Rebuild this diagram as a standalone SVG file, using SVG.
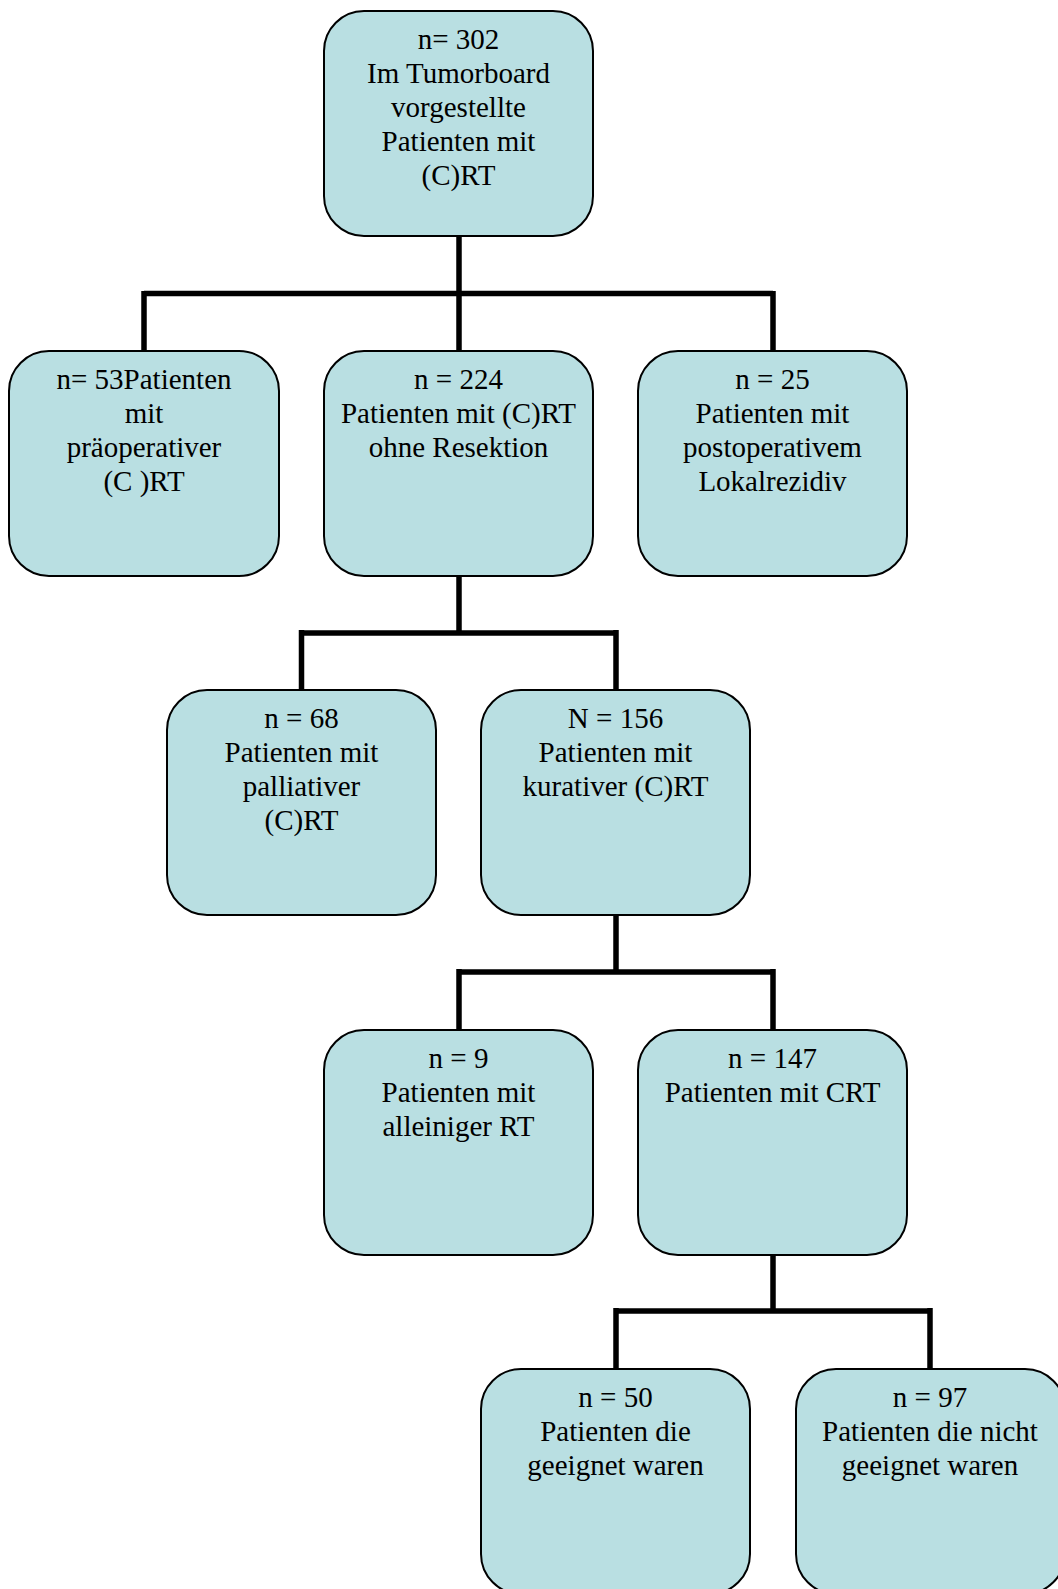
<svg xmlns="http://www.w3.org/2000/svg" width="1058" height="1589" viewBox="0 0 1058 1589">
<style>
.box{fill:#b9dfe2;stroke:#000;stroke-width:2}
.lbl{font-family:"Liberation Serif","Times New Roman",serif;font-size:29px;fill:#000;text-anchor:middle}
.conn{fill:none;stroke:#000;stroke-width:5.5;stroke-linejoin:miter}
</style>
<rect width="1058" height="1589" fill="#fff"/>
<g id="connectors">
<path class="conn" d="M459,236 V350 M144,293.5 H773 M144,291 V351 M773,291 V351"/>
<path class="conn" d="M459,576 V633 M301.5,633 H616 M301.5,630 V690 M616,630 V690"/>
<path class="conn" d="M616,915 V972 M459,972 H773 M459,969 V1030 M773,969 V1030"/>
<path class="conn" d="M773,1255 V1311 M616,1311 H930 M616,1308 V1369 M930,1308 V1369"/>
</g>
<g id="n302"><rect class="box" x="324" y="11" width="269" height="225" rx="40"/>
<text class="lbl" x="458.5" y="49">n= 302</text><text class="lbl" x="458.5" y="83">Im Tumorboard</text><text class="lbl" x="458.5" y="117">vorgestellte</text><text class="lbl" x="458.5" y="151">Patienten mit</text><text class="lbl" x="458.5" y="185">(C)RT</text></g>
<g id="n53"><rect class="box" x="9" y="351" width="270" height="225" rx="40"/>
<text class="lbl" x="144" y="389">n= 53Patienten</text><text class="lbl" x="144" y="423">mit</text><text class="lbl" x="144" y="457">präoperativer</text><text class="lbl" x="144" y="491">(C )RT</text></g>
<g id="n224"><rect class="box" x="324" y="351" width="269" height="225" rx="40"/>
<text class="lbl" x="458.5" y="389">n = 224</text><text class="lbl" x="458.5" y="423">Patienten mit (C)RT</text><text class="lbl" x="458.5" y="457">ohne Resektion</text></g>
<g id="n25"><rect class="box" x="638" y="351" width="269" height="225" rx="40"/>
<text class="lbl" x="772.5" y="389">n = 25</text><text class="lbl" x="772.5" y="423">Patienten mit</text><text class="lbl" x="772.5" y="457">postoperativem</text><text class="lbl" x="772.5" y="491">Lokalrezidiv</text></g>
<g id="n68"><rect class="box" x="167" y="690" width="269" height="225" rx="40"/>
<text class="lbl" x="301.5" y="728">n = 68</text><text class="lbl" x="301.5" y="762">Patienten mit</text><text class="lbl" x="301.5" y="796">palliativer</text><text class="lbl" x="301.5" y="830">(C)RT</text></g>
<g id="n156"><rect class="box" x="481" y="690" width="269" height="225" rx="40"/>
<text class="lbl" x="615.5" y="728">N = 156</text><text class="lbl" x="615.5" y="762">Patienten mit</text><text class="lbl" x="615.5" y="796">kurativer (C)RT</text></g>
<g id="n9"><rect class="box" x="324" y="1030" width="269" height="225" rx="40"/>
<text class="lbl" x="458.5" y="1068">n = 9</text><text class="lbl" x="458.5" y="1102">Patienten mit</text><text class="lbl" x="458.5" y="1136">alleiniger RT</text></g>
<g id="n147"><rect class="box" x="638" y="1030" width="269" height="225" rx="40"/>
<text class="lbl" x="772.5" y="1068">n = 147</text><text class="lbl" x="772.5" y="1102">Patienten mit CRT</text></g>
<g id="n50"><rect class="box" x="481" y="1369" width="269" height="225" rx="40"/>
<text class="lbl" x="615.5" y="1407">n = 50</text><text class="lbl" x="615.5" y="1441">Patienten die</text><text class="lbl" x="615.5" y="1475">geeignet waren</text></g>
<g id="n97"><rect class="box" x="796" y="1369" width="269" height="225" rx="40"/>
<text class="lbl" x="930" y="1407">n = 97</text><text class="lbl" x="930" y="1441">Patienten die nicht</text><text class="lbl" x="930" y="1475">geeignet waren</text></g>
</svg>
